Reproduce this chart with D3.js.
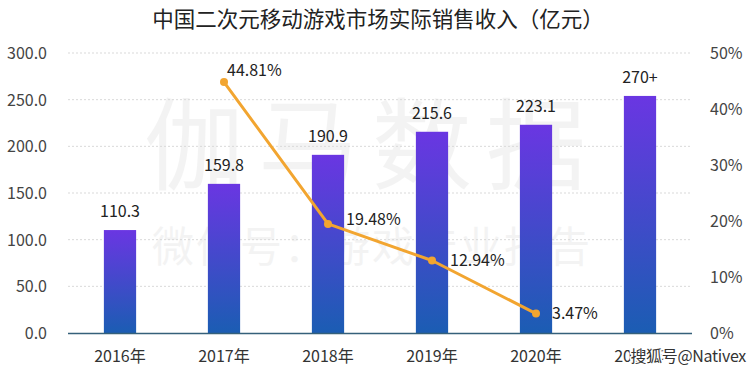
<!DOCTYPE html>
<html><head><meta charset="utf-8">
<script src="https://cdn.jsdelivr.net/npm/d3@7/dist/d3.min.js"></script>
<style>body{margin:0;background:#fff}svg{display:block}text{font-family:"Noto Sans CJK SC","Noto Sans",sans-serif}</style>
</head><body>
<svg id="c" width="750" height="374"></svg>
<script>
const title = "中国二次元移动游戏市场实际销售收入（亿元）";
const categories = ["2016年","2017年","2018年","2019年","2020年","2021年"];
const revenue = [110.3, 159.8, 190.9, 215.6, 223.1, 254];
const revenueLabels = ["110.3","159.8","190.9","215.6","223.1","270+"];
const growthCats = ["2017年","2018年","2019年","2020年"];
const growth = [44.81, 19.48, 12.94, 3.47];
const growthLabels = ["44.81%","19.48%","12.94%","3.47%"];
const leftTicks = [0,50,100,150,200,250,300];
const rightTicks = [0,10,20,30,40,50];

const svg = d3.select("#c");
const L = 68, R = 692, T = 53, B = 333;
const x = d3.scaleBand().domain(categories).range([L, R]).paddingInner(0.69).paddingOuter(0.345);
const y = d3.scaleLinear().domain([0,300]).range([B, T]);
const y2 = d3.scaleLinear().domain([0,50]).range([B, T]);

const defs = svg.append("defs");
const g = defs.append("linearGradient").attr("id","bg").attr("x1",0).attr("y1",0).attr("x2",0).attr("y2",1);
g.append("stop").attr("offset","0%").attr("stop-color","#6a36e2");
g.append("stop").attr("offset","100%").attr("stop-color","#1b5db3");

// watermark background
svg.append("text").attr("x",372).attr("y",182).attr("text-anchor","middle")
  .attr("font-size",100).attr("fill","#000").attr("opacity",0.045).attr("letter-spacing",14).text("伽马数据");
svg.append("text").attr("x",372).attr("y",262).attr("text-anchor","middle")
  .attr("font-size",42).attr("fill","#000").attr("opacity",0.045).attr("letter-spacing",2).text("微信号：游戏产业报告");

// title
svg.append("text").attr("x",378).attr("y",27).attr("text-anchor","middle")
  .attr("font-size",21.5).attr("fill","#222").text(title);

// grid
svg.append("g").selectAll("line").data(leftTicks.filter(d=>d>0)).join("line")
  .attr("x1",L).attr("x2",R).attr("y1",d=>y(d)).attr("y2",d=>y(d))
  .attr("stroke","#d9d9d9").attr("stroke-width",1).attr("stroke-dasharray","2,2");

// left axis
const la = svg.append("g").attr("transform",`translate(${L-21},0)`)
  .call(d3.axisLeft(y).tickValues(leftTicks).tickFormat(d3.format(".1f")).tickSize(0).tickPadding(0));
la.select(".domain").remove();
la.selectAll("text").attr("font-size",16).attr("fill","#444").attr("dy","0.35em");

// right axis
const ra = svg.append("g").attr("transform",`translate(${R+18},0)`)
  .call(d3.axisRight(y2).tickValues(rightTicks).tickFormat(d=>d+"%").tickSize(0).tickPadding(0));
ra.select(".domain").remove();
ra.selectAll("text").attr("font-size",16).attr("fill","#444").attr("dy","0.35em");

// bars
svg.append("g").selectAll("rect").data(revenue).join("rect")
  .attr("x",(d,i)=>x(categories[i])).attr("width",x.bandwidth())
  .attr("y",d=>y(d)).attr("height",d=>B-y(d)).attr("fill","url(#bg)");

// baseline
svg.append("line").attr("x1",L).attr("x2",R).attr("y1",B+0.5).attr("y2",B+0.5)
  .attr("stroke","#35607a").attr("stroke-width",1.5);

// bar labels
svg.append("g").selectAll("text").data(revenue).join("text")
  .attr("x",(d,i)=>x(categories[i])+x.bandwidth()/2).attr("y",d=>y(d)-13)
  .attr("text-anchor","middle").attr("font-size",16).attr("fill","#222")
  .text((d,i)=>revenueLabels[i]);

// x labels
const xa = svg.append("g").attr("transform",`translate(0,${B})`)
  .call(d3.axisBottom(x).tickSize(0).tickPadding(18));
xa.select(".domain").remove();
xa.selectAll("text").attr("font-size",16).attr("fill","#333");

// line
const cx = (i)=>x(growthCats[i])+x.bandwidth()/2;
const line = d3.line().x((d,i)=>cx(i)).y(d=>y2(d));
svg.append("path").datum(growth).attr("d",line).attr("fill","none")
  .attr("stroke","#f2a530").attr("stroke-width",3).attr("stroke-linejoin","round");
svg.append("g").selectAll("circle").data(growth).join("circle")
  .attr("cx",(d,i)=>cx(i)).attr("cy",d=>y2(d)).attr("r",4).attr("fill","#f2a530");

const off = [[3,-12],[18,-5],[18,0],[16,0]];
svg.append("g").selectAll("text").data(growth).join("text")
  .attr("x",(d,i)=>cx(i)+off[i][0]).attr("y",(d,i)=>y2(d)+off[i][1]).attr("dy","0.35em")
  .attr("font-size",16).attr("fill","#222").text((d,i)=>growthLabels[i]);

// bottom-right source watermark
svg.append("text").attr("x",746).attr("y",362).attr("text-anchor","end")
  .attr("font-size",16).attr("fill","#333").attr("stroke","#fff").attr("stroke-width",3)
  .attr("paint-order","stroke").attr("letter-spacing",-0.3).text("搜狐号@Nativex");
</script>
</body></html>
